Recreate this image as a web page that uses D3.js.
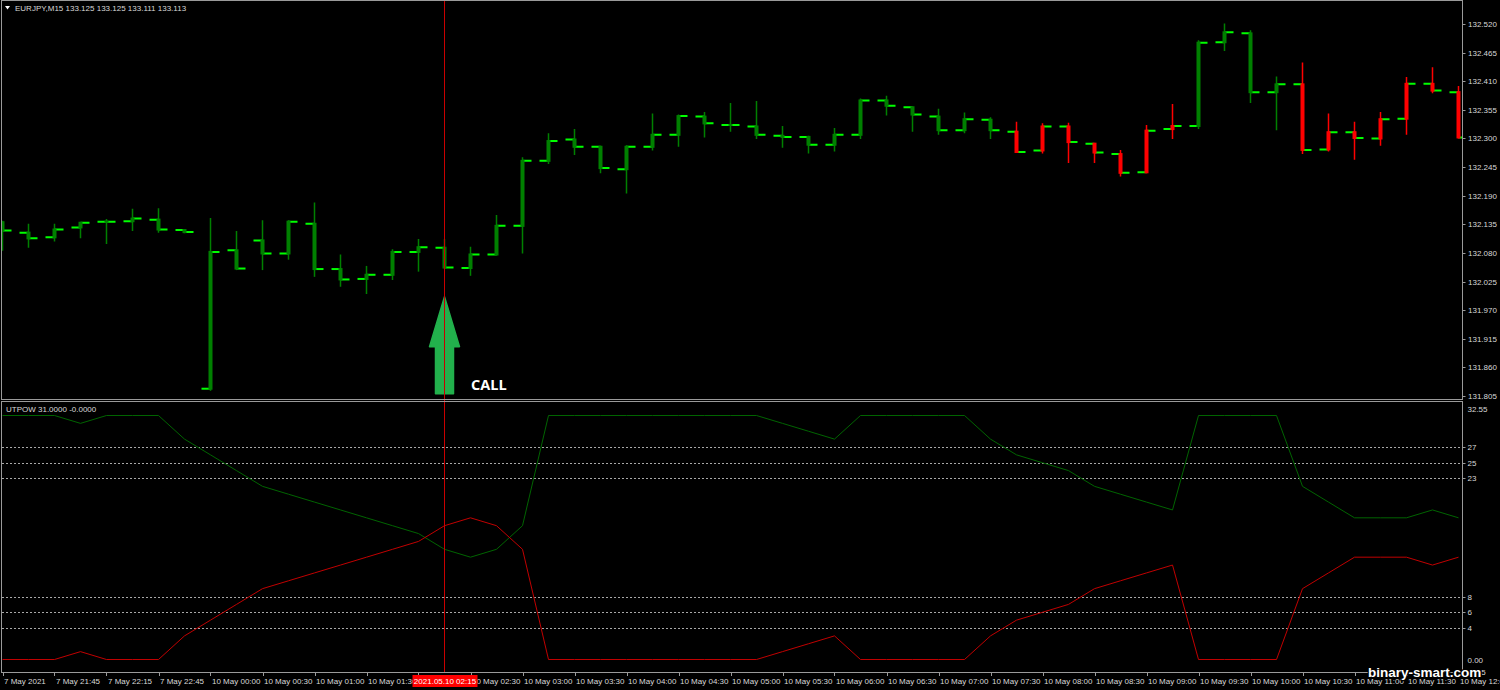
<!DOCTYPE html>
<html><head><meta charset="utf-8">
<script src="https://cdn.jsdelivr.net/npm/d3@7"></script>
<style>html,body{margin:0;padding:0;background:#000;overflow:hidden}svg{display:block}</style>
</head><body><svg id="c" width="1500" height="690"></svg>
<script>
// ---------------- data ----------------
const symbolTitle = "EURJPY,M15  133.125 133.125 133.111 133.113";
const indicatorTitle = "UTPOW 31.0000 -0.0000";
const barTimes = ["7 May 21:15","7 May 21:30","7 May 21:45","7 May 22:00","7 May 22:15","7 May 22:30","7 May 22:45","7 May 23:00",
"10 May 00:00","10 May 00:15","10 May 00:30","10 May 00:45","10 May 01:00","10 May 01:15","10 May 01:30","10 May 01:45",
"10 May 02:00","10 May 02:15","10 May 02:30","10 May 02:45","10 May 03:00","10 May 03:15","10 May 03:30","10 May 03:45",
"10 May 04:00","10 May 04:15","10 May 04:30","10 May 04:45","10 May 05:00","10 May 05:15","10 May 05:30","10 May 05:45",
"10 May 06:00","10 May 06:15","10 May 06:30","10 May 06:45","10 May 07:00","10 May 07:15","10 May 07:30","10 May 07:45",
"10 May 08:00","10 May 08:15","10 May 08:30","10 May 08:45","10 May 09:00","10 May 09:15","10 May 09:30","10 May 09:45",
"10 May 10:00","10 May 10:15","10 May 10:30","10 May 10:45","10 May 11:00","10 May 11:15","10 May 11:30","10 May 11:45","10 May 12:00"];
const openP  = [132.139,132.119,132.110,132.129,132.140,132.141,132.144,132.124,131.819,132.085,132.104,132.079,132.136,132.049,132.030,132.038,132.082,132.090,132.051,132.077,132.132,132.257,132.298,132.284,132.241,132.284,132.307,132.342,132.326,132.323,132.305,132.303,132.288,132.307,132.373,132.360,132.342,132.316,132.336,132.313,132.277,132.323,132.290,132.270,132.235,132.318,132.324,132.485,132.502,132.389,132.404,132.279,132.312,132.300,132.338,132.405,132.389];
const highP  = [132.142,132.136,132.136,132.139,132.145,132.165,132.166,132.126,132.147,132.122,132.143,132.143,132.177,132.077,132.055,132.087,132.107,132.107,132.092,132.153,132.264,132.310,132.318,132.286,132.287,132.348,132.346,132.351,132.368,132.372,132.324,132.305,132.320,132.377,132.382,132.361,132.357,132.350,132.341,132.332,132.329,132.330,132.291,132.278,132.326,132.366,132.489,132.521,132.508,132.419,132.446,132.348,132.332,132.351,132.418,132.437,132.401];
const lowP   = [132.084,132.090,132.102,132.108,132.097,132.122,132.119,132.118,131.815,132.047,132.047,132.067,132.034,132.015,132.001,132.028,132.044,132.049,132.036,132.075,132.079,132.251,132.268,132.233,132.194,132.277,132.284,132.302,132.313,132.299,132.282,132.271,132.275,132.299,132.344,132.313,132.307,132.310,132.299,132.272,132.271,132.253,132.253,132.227,132.233,132.299,132.318,132.468,132.368,132.316,132.270,132.275,132.259,132.286,132.307,132.387,132.300];
const closeP = [132.123,132.108,132.125,132.138,132.140,132.146,132.125,132.120,132.082,132.050,132.079,132.140,132.049,132.029,132.038,132.082,132.091,132.052,132.077,132.132,132.257,132.295,132.284,132.243,132.284,132.307,132.343,132.329,132.326,132.307,132.303,132.288,132.307,132.373,132.363,132.346,132.316,132.337,132.316,132.274,132.323,132.293,132.273,132.234,132.315,132.324,132.484,132.504,132.389,132.404,132.278,132.312,132.301,132.337,132.405,132.392,132.302];
const barSignal = ["up","up","up","up","up","up","up","up","up","up","up","up","up","up","up","up","up","up","up","up",
"up","up","up","up","up","up","up","up","up","up","up","up","up","up","up","up","up","up","up",
"down","down","down","down","down","down","down","up","up","up","up","down","down","down","down","down","down","down"];
const upPower   = [31,31,31,30,31,31,31,28,26,24,22,21,20,19,18,17,16,14,13,14,17,31,31,31,31,31,31,31,31,31,30,29,28,31,31,31,31,31,28,26,25,24,22,21,20,19,31,31,31,31,22,20,18,18,18,19,18];
const downPower = [0,0,0,1,0,0,0,3,5,7,9,10,11,12,13,14,15,17,18,17,14,0,0,0,0,0,0,0,0,0,1,2,3,0,0,0,0,0,3,5,6,7,9,10,11,12,0,0,0,0,9,11,13,13,13,12,13];
const priceTicks = [132.520,132.465,132.410,132.355,132.300,132.245,132.190,132.135,132.080,132.025,131.970,131.915,131.860,131.805];
const powerLevels = [27,25,23,8,6,4];
const powerTickValues = [32.55,27,25,23,8,6,4,0,-1.55];
const powerTickLabels = ["32.55","27","25","23","8","6","4","0.00","-1.55"];
const timeTickIndex = [0,2,4,6,8,10,12,14,16,18,20,22,24,26,28,30,32,34,36,38,40,42,44,46,48,50,52,54,56];
const timeTickLabels = ["7 May 2021","7 May 21:45","7 May 22:15","7 May 22:45","10 May 00:00","10 May 00:30","10 May 01:00","10 May 01:30","10 May 02:00","10 May 02:30","10 May 03:00","10 May 03:30","10 May 04:00","10 May 04:30","10 May 05:00","10 May 05:30","10 May 06:00","10 May 06:30","10 May 07:00","10 May 07:30","10 May 08:00","10 May 08:30","10 May 09:00","10 May 09:30","10 May 10:00","10 May 10:30","10 May 11:00","10 May 11:30","10 May 12:00"];
const signalIndex = 17;
const signalLabel = "CALL";
const cursorLabel = "2021.05.10 02:15";
const signalTipPrice = 131.996;
const watermark = "binary-smart.com";

// ---------------- layout ----------------
const svg = d3.select("#c");
const FONT = "'Liberation Sans', Arial, sans-serif";
const TXT = "#d8d8d8", FRAME = "#9a9a9a";
const plotRight = 1462.5;
const x = d3.scaleLinear().domain([0, barTimes.length - 1]).range([2.5, 1458.5]);
const y = d3.scaleLinear().domain([131.805, 132.520]).range([396, 24]);
const yp = d3.scaleLinear().domain([-1.55, 32.55]).range([671.7, 403.3]);

svg.append("rect").attr("width",1500).attr("height",690).attr("fill","#000");
const defs = svg.append("defs");
defs.append("clipPath").attr("id","mainClip").append("rect").attr("x",2).attr("y",1).attr("width",plotRight-2).attr("height",398);
defs.append("clipPath").attr("id","indClip").append("rect").attr("x",2).attr("y",402.5).attr("width",plotRight-2).attr("height",270);

// ---------------- main panel ----------------
const main = svg.append("g").attr("clip-path","url(#mainClip)");
const bars = d3.range(barTimes.length).map(i => ({i, o:openP[i], h:highP[i], l:lowP[i], c:closeP[i], s:barSignal[i]}));
const col = s => s === "up" ? "#008000" : "#ff0000";
const g = main.selectAll("g.bar").data(bars).join("g").attr("class","bar");
g.append("line").attr("x1",d=>x(d.i)-9).attr("x2",d=>x(d.i)).attr("y1",d=>y(d.o)).attr("y2",d=>y(d.o))
  .attr("stroke","#00ff00").attr("stroke-width",2);
g.append("line").attr("x1",d=>x(d.i)).attr("x2",d=>x(d.i)+9).attr("y1",d=>y(d.c)).attr("y2",d=>y(d.c))
  .attr("stroke","#00ff00").attr("stroke-width",2);
g.append("line").attr("x1",d=>x(d.i)).attr("x2",d=>x(d.i)).attr("y1",d=>y(d.h)).attr("y2",d=>y(d.l))
  .attr("stroke",d=>col(d.s)).attr("stroke-width",1.5);
g.append("rect").attr("x",d=>x(d.i)-2).attr("width",4)
  .attr("y",d=>Math.min(y(d.o),y(d.c))-1).attr("height",d=>Math.max(2,Math.abs(y(d.o)-y(d.c))+2))
  .attr("fill",d=>col(d.s));

// header
svg.append("path").attr("d","M5,6 L10,6 L7.5,9.5 Z").attr("fill","#ffffff");
svg.append("text").attr("x",15).attr("y",11).text(symbolTitle).attr("fill",TXT).attr("font-family",FONT).attr("font-size",8);

// ---------------- indicator panel ----------------
const ind = svg.append("g").attr("clip-path","url(#indClip)");
ind.selectAll("line.lvl").data(powerLevels).join("line").attr("class","lvl")
  .attr("x1",2).attr("x2",plotRight).attr("y1",d=>Math.round(yp(d))+0.5).attr("y2",d=>Math.round(yp(d))+0.5)
  .attr("stroke","#a8a8a8").attr("stroke-width",1).attr("stroke-dasharray","2,2");
const line = arr => d3.line().x((d,i)=>x(i)).y(d=>yp(d))(arr);
ind.append("path").attr("d",line(upPower)).attr("fill","none").attr("stroke","#006400").attr("stroke-width",1);
ind.append("path").attr("d",line(downPower)).attr("fill","none").attr("stroke","#c00000").attr("stroke-width",1);
svg.append("text").attr("x",6).attr("y",412).text(indicatorTitle).attr("fill",TXT).attr("font-family",FONT).attr("font-size",8);

// cursor line (on top of both panels)
const cx = Math.floor(x(signalIndex)) + 0.5;
svg.append("line").attr("x1",cx).attr("x2",cx).attr("y1",1).attr("y2",672).attr("stroke","#c80000").attr("stroke-width",1);

// arrow
const ax = x(signalIndex), tipY = y(signalTipPrice);
const arrow = `M${ax},${tipY} L${ax+15},${tipY+50} L${ax+9},${tipY+50} L${ax+9},${tipY+97} L${ax-9},${tipY+97} L${ax-9},${tipY+50} L${ax-15},${tipY+50} Z`;
main.append("path").attr("d",arrow).attr("fill","#22b14c").attr("stroke","#22b14c").attr("stroke-width",1.5).attr("stroke-linejoin","round");
main.append("text").attr("x",ax+26.5).attr("y",tipY+93).text(signalLabel)
  .attr("fill","#ffffff").attr("font-family","'Open Sans', sans-serif").attr("font-weight","bold").attr("font-size",14.5);

// ---------------- frames ----------------
svg.append("rect").attr("x",1.5).attr("y",0.5).attr("width",plotRight-1.5).attr("height",399).attr("fill","none").attr("stroke",FRAME);
svg.append("rect").attr("x",1.5).attr("y",401.5).attr("width",plotRight-1.5).attr("height",271).attr("fill","none").attr("stroke",FRAME);

// ---------------- price axis ----------------
const pa = svg.append("g");
pa.selectAll("line").data(priceTicks).join("line").attr("x1",plotRight).attr("x2",plotRight+3)
  .attr("y1",d=>Math.round(y(d))+0.5).attr("y2",d=>Math.round(y(d))+0.5).attr("stroke",FRAME);
pa.selectAll("text").data(priceTicks).join("text").attr("x",plotRight+5.5).attr("y",d=>y(d)+3)
  .text(d=>d.toFixed(3)).attr("fill",TXT).attr("font-family",FONT).attr("font-size",8);

const ia = svg.append("g");
ia.selectAll("line").data(powerTickValues.slice(1,7)).join("line").attr("x1",plotRight).attr("x2",plotRight+3)
  .attr("y1",d=>Math.round(yp(d))+0.5).attr("y2",d=>Math.round(yp(d))+0.5).attr("stroke",FRAME);
ia.selectAll("text").data(powerTickValues).join("text").attr("x",plotRight+5)
  .attr("y",(d,i)=> i===0 ? 412 : yp(d)+3)
  .text((d,i)=>powerTickLabels[i]).attr("fill",TXT).attr("font-family",FONT).attr("font-size",8);

// ---------------- time axis ----------------
// the cursor label box hides the time label that starts under it, as in the terminal
const boxL = x(signalIndex) - 32, boxR = x(signalIndex) + 33;
const visibleTicks = timeTickIndex.map((d,i)=>({d, label: timeTickLabels[i]}))
  .filter(t => !(x(t.d) > boxL && x(t.d) < boxR - 20));
const ta = svg.append("g");
ta.selectAll("line").data(timeTickIndex).join("line").attr("x1",d=>Math.round(x(d))+0.5).attr("x2",d=>Math.round(x(d))+0.5)
  .attr("y1",672.5).attr("y2",676).attr("stroke",FRAME);
ta.selectAll("text").data(visibleTicks).join("text").attr("x",t=>x(t.d)+1.5).attr("y",684)
  .text(t=>t.label).attr("fill",TXT).attr("font-family",FONT).attr("font-size",8);

// cursor time label
const cl = svg.append("g");
cl.append("rect").attr("x",boxL).attr("y",675).attr("width",boxR-boxL).attr("height",12).attr("fill","#ff0000");
cl.append("text").attr("x",x(signalIndex)+0.5).attr("y",684).attr("text-anchor","middle").text(cursorLabel)
  .attr("fill","#ffffff").attr("font-family",FONT).attr("font-size",8);

// watermark
svg.append("text").attr("x",1368).attr("y",677).text(watermark)
  .attr("fill","#ffffff").attr("stroke","#000").attr("stroke-width",2.5).attr("paint-order","stroke")
  .attr("font-family",FONT).attr("font-weight","bold").attr("font-size",13.5);
</script></body></html>
